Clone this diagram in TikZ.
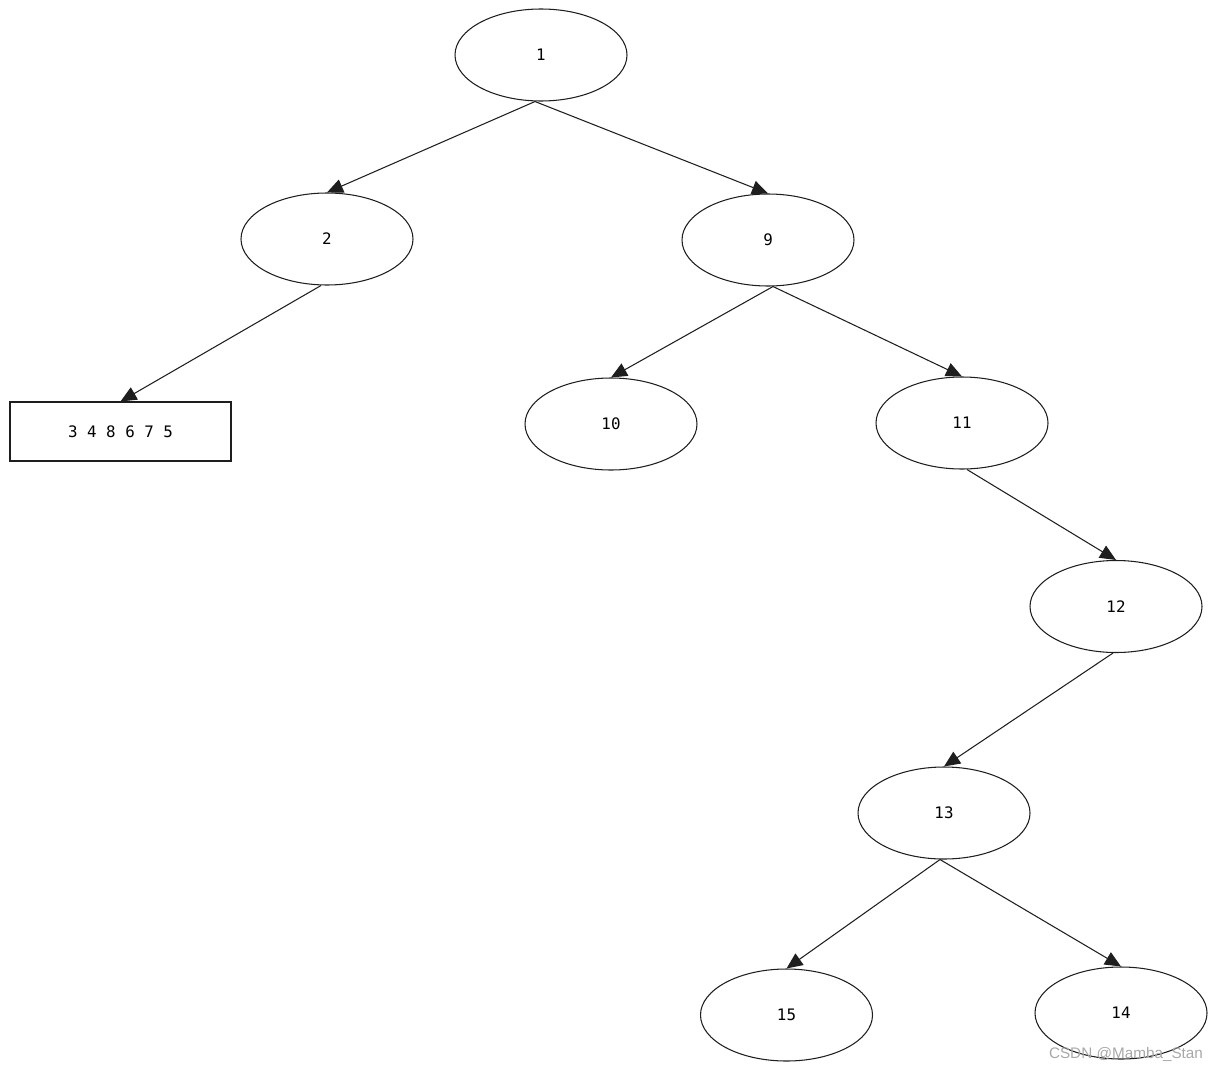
\documentclass[tikz,border=0pt]{standalone}
\usepackage{fontspec}
\setmonofont{DejaVu Sans Mono}
\setsansfont{Liberation Sans}
\usepackage{tikz}
\usetikzlibrary{shapes.geometric,arrows.meta}
\definecolor{edgeblk}{HTML}{1E1E1E}
\definecolor{wmgrey}{HTML}{A8A8A8}

\begin{document}
\begin{tikzpicture}[
  font=\ttfamily\fontsize{9}{11}\selectfont,
  vtx/.style={ellipse,draw=edgeblk,line width=0.6pt,inner sep=0pt,
              minimum width=3.44cm,minimum height=1.84cm},
  leaf/.style={rectangle,draw=edgeblk,line width=0.6pt,inner sep=0pt,
               minimum width=4.42cm,minimum height=1.18cm},
  ar/.style={-{Triangle[length=3.2mm,width=2.8mm]},line width=0.6pt,edgeblk}]
\useasboundingbox (0,0) rectangle (24.34,-21.42);

% ---- tree nodes ----
\node[vtx] (n1)  at (10.82,-1.10) {1};
\node[vtx] (n2)  at (6.54,-4.78)  {2};
\node[vtx] (n9)  at (15.36,-4.80) {9};
\node[leaf] (rest) at (2.41,-8.63) {3 4 8 6 7 5};
\node[vtx] (n10) at (12.22,-8.48) {10};
\node[vtx] (n11) at (19.24,-8.46) {11};
\node[vtx] (n12) at (22.32,-12.13) {12};
\node[vtx] (n13) at (18.88,-16.26) {13};
\node[vtx] (n15) at (15.73,-20.30) {15};
\node[vtx] (n14) at (22.42,-20.26) {14};

% ---- edges ----
\draw[ar] ([xshift=-1.2mm]n1.south) -- (n2.north);
\draw[ar] ([xshift=-1.2mm]n1.south) -- (n9.north);
\draw[ar] ([xshift=-1.2mm]n2.south) -- (rest.north);
\draw[ar] ([xshift=1mm]n9.south) -- (n10.north);
\draw[ar] ([xshift=1mm]n9.south) -- (n11.north);
\draw[ar] ([xshift=1mm]n11.south) -- (n12.north);
\draw[ar] ([xshift=-0.6mm]n12.south) -- (n13.north);
\draw[ar] ([xshift=-0.8mm]n13.south) -- (n15.north);
\draw[ar] ([xshift=-0.8mm]n13.south) -- (n14.north);

% ---- watermark ----
\node[font=\sffamily\fontsize{8.7}{10}\selectfont,text=wmgrey] (wm) at (22.52,-21.08) {CSDN @Mamba\_Stan};
\end{tikzpicture}
\end{document}
